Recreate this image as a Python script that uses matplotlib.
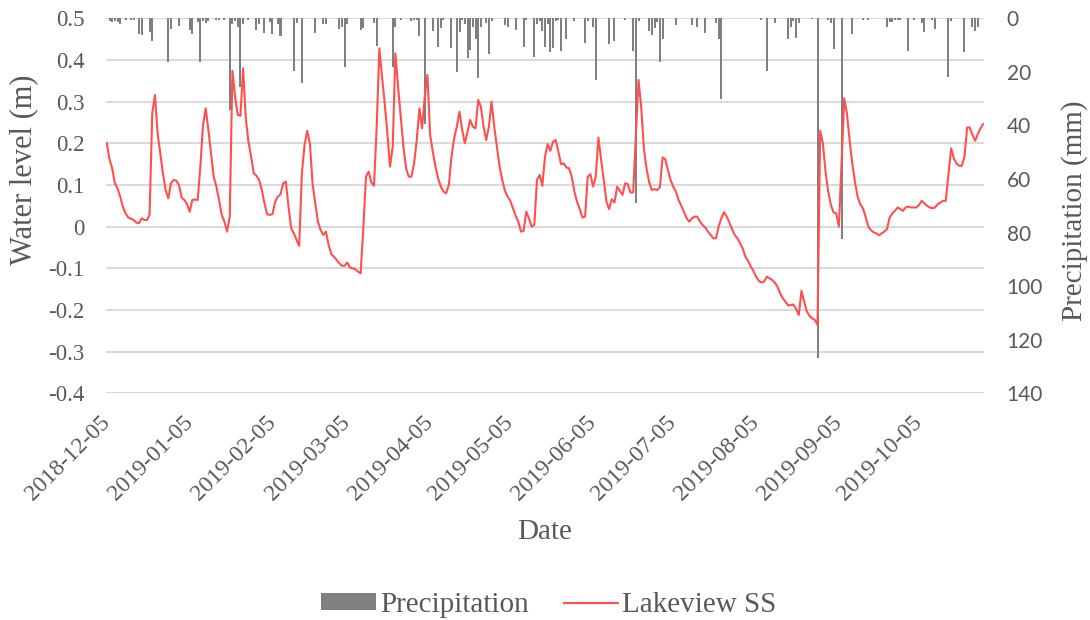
import numpy as np
import pandas as pd
import matplotlib
matplotlib.use('Agg')
import matplotlib.pyplot as plt
import matplotlib.dates as mdates
from matplotlib.patches import Patch
from matplotlib.lines import Line2D

plt.rcParams['font.family'] = ['Liberation Serif', 'DejaVu Serif']

# daily water level (m), one value per day from 2018-12-05
level_start = '2018-12-05'
level_m = [
    0.200, 0.162, 0.140, 0.104, 0.092, 0.072, 0.048, 0.032, 0.022, 0.019,
    0.016, 0.010, 0.008, 0.020, 0.016, 0.016, 0.028, 0.272, 0.316, 0.224,
    0.176, 0.128, 0.088, 0.068, 0.104, 0.112, 0.110, 0.100, 0.070, 0.064,
    0.054, 0.036, 0.064, 0.065, 0.064, 0.144, 0.244, 0.284, 0.232, 0.176,
    0.120, 0.096, 0.064, 0.028, 0.012, -0.012, 0.024, 0.374, 0.312, 0.268,
    0.266, 0.380, 0.260, 0.204, 0.168, 0.128, 0.122, 0.112, 0.088, 0.056,
    0.030, 0.028, 0.030, 0.060, 0.072, 0.078, 0.104, 0.108, 0.048, -0.004,
    -0.016, -0.032, -0.046, 0.128, 0.196, 0.230, 0.200, 0.104, 0.056, 0.012,
    -0.008, -0.020, -0.012, -0.044, -0.066, -0.072, -0.080, -0.088, -0.094, -0.094,
    -0.086, -0.098, -0.100, -0.102, -0.108, -0.112, -0.002, 0.120, 0.132, 0.106,
    0.098, 0.240, 0.428, 0.360, 0.296, 0.224, 0.144, 0.192, 0.416, 0.336,
    0.264, 0.192, 0.140, 0.120, 0.120, 0.152, 0.208, 0.284, 0.236, 0.312,
    0.364, 0.220, 0.180, 0.144, 0.116, 0.096, 0.084, 0.080, 0.100, 0.168,
    0.212, 0.240, 0.276, 0.232, 0.200, 0.228, 0.256, 0.240, 0.236, 0.304,
    0.288, 0.240, 0.208, 0.240, 0.300, 0.240, 0.192, 0.144, 0.112, 0.086,
    0.072, 0.062, 0.044, 0.026, 0.012, -0.012, -0.010, 0.036, 0.020, 0.000,
    0.004, 0.112, 0.124, 0.098, 0.168, 0.198, 0.182, 0.204, 0.208, 0.180,
    0.150, 0.152, 0.142, 0.140, 0.120, 0.084, 0.060, 0.042, 0.022, 0.024,
    0.120, 0.126, 0.096, 0.120, 0.214, 0.160, 0.112, 0.060, 0.042, 0.066,
    0.058, 0.096, 0.086, 0.076, 0.104, 0.102, 0.082, 0.082, 0.218, 0.352,
    0.288, 0.188, 0.140, 0.106, 0.088, 0.090, 0.088, 0.094, 0.166, 0.162,
    0.136, 0.112, 0.096, 0.084, 0.064, 0.050, 0.036, 0.020, 0.012, 0.020,
    0.024, 0.024, 0.012, 0.004, -0.002, -0.012, -0.020, -0.028, -0.028, 0.000,
    0.020, 0.035, 0.024, 0.010, -0.006, -0.020, -0.028, -0.040, -0.052, -0.072,
    -0.082, -0.096, -0.106, -0.120, -0.130, -0.134, -0.132, -0.120, -0.124, -0.128,
    -0.134, -0.144, -0.160, -0.172, -0.180, -0.189, -0.188, -0.187, -0.198, -0.212,
    -0.154, -0.180, -0.204, -0.214, -0.220, -0.224, -0.236, 0.230, 0.200, 0.132,
    0.084, 0.052, 0.034, 0.032, 0.000, 0.155, 0.308, 0.272, 0.208, 0.152,
    0.108, 0.072, 0.054, 0.044, 0.024, 0.000, -0.008, -0.014, -0.016, -0.021,
    -0.016, -0.012, -0.006, 0.022, 0.032, 0.038, 0.046, 0.042, 0.038, 0.046,
    0.048, 0.046, 0.046, 0.046, 0.052, 0.062, 0.056, 0.050, 0.046, 0.044,
    0.046, 0.054, 0.058, 0.062, 0.062, 0.125, 0.188, 0.164, 0.152, 0.146,
    0.146, 0.168, 0.238, 0.238, 0.220, 0.206, 0.222, 0.236, 0.246,
]

# rain days (days after 2018-12-05) and daily precipitation (mm)
precip_day = [
    1, 2, 3, 4, 5, 7, 9, 10, 12, 13, 16, 17, 23, 24, 27, 31, 32, 34, 35, 36,
    37, 38, 41, 42, 44, 46, 47, 48, 49, 50, 51, 53, 56, 57, 59, 61, 62, 64, 65, 70,
    71, 73, 78, 81, 82, 87, 88, 89, 90, 95, 96, 100, 101, 107, 108, 110, 114, 115, 116, 117,
    119, 122, 124, 125, 126, 129, 131, 132, 133, 134, 135, 136, 137, 138, 139, 140, 142, 143, 144, 149,
    150, 153, 156, 157, 160, 161, 162, 163, 164, 165, 166, 167, 168, 169, 170, 172, 175, 179, 180, 182,
    183, 188, 190, 194, 197, 198, 199, 203, 204, 205, 206, 207, 208, 213, 219, 221, 224, 228, 229, 230,
    245, 247, 250, 255, 256, 257, 258, 259, 264, 266, 270, 271, 272, 275, 279, 283, 285, 292, 293, 294,
    295, 296, 297, 300, 302, 305, 306, 309, 310, 315, 316, 321, 324, 325, 326,
]
precip_mm = [
    1.1, 1.5, 1.1, 1.5, 2.1, 0.6, 0.6, 0.6, 5.9, 6.1, 5.2, 8.6, 16.4, 4.0, 2.8, 4.4, 5.9, 1.5, 16.4, 1.1,
    1.9, 1.1, 0.6, 0.6, 0.6, 34.2, 2.1, 1.1, 3.1, 25.5, 2.1, 0.6, 4.4, 2.1, 5.6, 1.5, 5.9, 2.1, 6.5, 19.8,
    1.9, 24.3, 5.6, 2.1, 2.1, 4.0, 3.1, 18.1, 2.1, 4.4, 3.6, 1.9, 10.2, 18.3, 3.1, 0.6, 1.1, 0.8, 0.6, 6.5,
    39.5, 4.9, 10.6, 3.6, 0.6, 11.1, 20.2, 5.2, 0.8, 2.1, 14.8, 11.8, 3.3, 7.7, 22.3, 3.3, 1.9, 13.3, 1.1, 2.4,
    3.1, 4.4, 10.8, 0.6, 14.6, 2.1, 1.1, 4.6, 10.8, 2.1, 12.7, 11.1, 1.1, 0.6, 12.1, 7.7, 1.1, 9.3, 1.1, 3.1,
    23.0, 9.6, 8.6, 0.6, 12.1, 68.8, 1.1, 4.6, 6.1, 3.6, 1.5, 16.4, 7.7, 2.4, 2.4, 3.1, 5.6, 1.9, 7.7, 30.2,
    0.6, 19.5, 1.9, 7.7, 3.1, 1.1, 7.4, 1.9, 0.4, 127.0, 0.6, 1.9, 11.5, 82.3, 5.9, 0.8, 0.6, 3.1, 1.5, 1.5,
    0.8, 0.6, 0.6, 12.3, 0.6, 1.9, 5.2, 0.6, 4.0, 22.0, 1.1, 12.7, 3.1, 4.9, 3.3,
]

level_ticks = [-0.4, -0.3, -0.2, -0.1, 0.0, 0.1, 0.2, 0.3, 0.4, 0.5]
level_labels = ['-0.4', '-0.3', '-0.2', '-0.1', '0', '0.1', '0.2', '0.3', '0.4', '0.5']
precip_ticks = [0, 20, 40, 60, 80, 100, 120, 140]
date_ticks = ['2018-12-05', '2019-01-05', '2019-02-05', '2019-03-05', '2019-04-05', '2019-05-05',
              '2019-06-05', '2019-07-05', '2019-08-05', '2019-09-05', '2019-10-05']

start = pd.Timestamp(level_start)
level_dates = pd.date_range(start, periods=len(level_m), freq='D')
precip_dates = start + pd.to_timedelta(precip_day, unit='D')

grey_txt = '#595959'
red = '#FF4F4F'
bar_grey = '#808080'

W, H = 1090, 620
fig = plt.figure(figsize=(W / 100, H / 100), dpi=100)
L, R, T, B = 105.5, 984.5, 18.3, 393.3
ax = fig.add_axes([L / W, 1 - B / H, (R - L) / W, (B - T) / H])
ax2 = ax.twinx()
for s in list(ax.spines.values()) + list(ax2.spines.values()):
    s.set_visible(False)

# bars hang from the top on the inverted right axis
ax2.bar(precip_dates, precip_mm, width=0.75, color=bar_grey, zorder=2)
# line drawn in ax2 so it sits above bars, but in water-level units
ax2.plot(level_dates, level_m, color=red, lw=1.5, transform=ax.transData, zorder=3)

ax.set_xlim(start - pd.Timedelta(hours=12), level_dates[-1] + pd.Timedelta(hours=12))
ax.set_ylim(-0.4, 0.5)
ax2.set_ylim(140, 0)

ax.set_yticks(level_ticks)
ax.set_yticklabels(level_labels)
ax.grid(axis='y', color='#D9D9D9', lw=1.4)
ax.set_axisbelow(True)
ax.tick_params(axis='y', length=0, pad=15, labelsize=16.5, labelcolor=grey_txt)

ax2.set_yticks(precip_ticks)
ax2.tick_params(axis='y', length=0, pad=16, labelsize=15, labelcolor=grey_txt)
for t in ax2.get_yticklabels():
    t.set_fontfamily('Lato')

ax.set_xticks(pd.to_datetime(date_ticks))
ax.xaxis.set_major_formatter(mdates.DateFormatter('%Y-%m-%d'))
ax.tick_params(axis='x', length=0, pad=19, labelsize=17, labelcolor=grey_txt)
plt.setp(ax.get_xticklabels(), rotation=45, ha='right', va='center', rotation_mode='anchor')

fig.text(24 / W, 1 - 170 / H, 'Water level (m)', rotation=90, ha='center', va='center',
         fontsize=22, color=grey_txt)
fig.text(1075 / W, 1 - 211 / H, 'Precipitation (mm)', rotation=90, ha='center', va='center',
         fontsize=21, color=grey_txt)
fig.text(545 / W, 1 - 532 / H, 'Date', ha='center', va='center', fontsize=21, color=grey_txt)

handles = [Patch(facecolor=bar_grey, edgecolor='none'), Line2D([], [], color=red, lw=1.5)]
fig.legend(handles, ['Precipitation', 'Lakeview SS'], loc='center',
           bbox_to_anchor=(549 / W, 1 - 605 / H), ncol=2, frameon=False, fontsize=21,
           labelcolor=grey_txt, handlelength=1.86, handleheight=0.52,
           handletextpad=0.15, columnspacing=1.2)

fig.savefig('out.png', dpi=100)
